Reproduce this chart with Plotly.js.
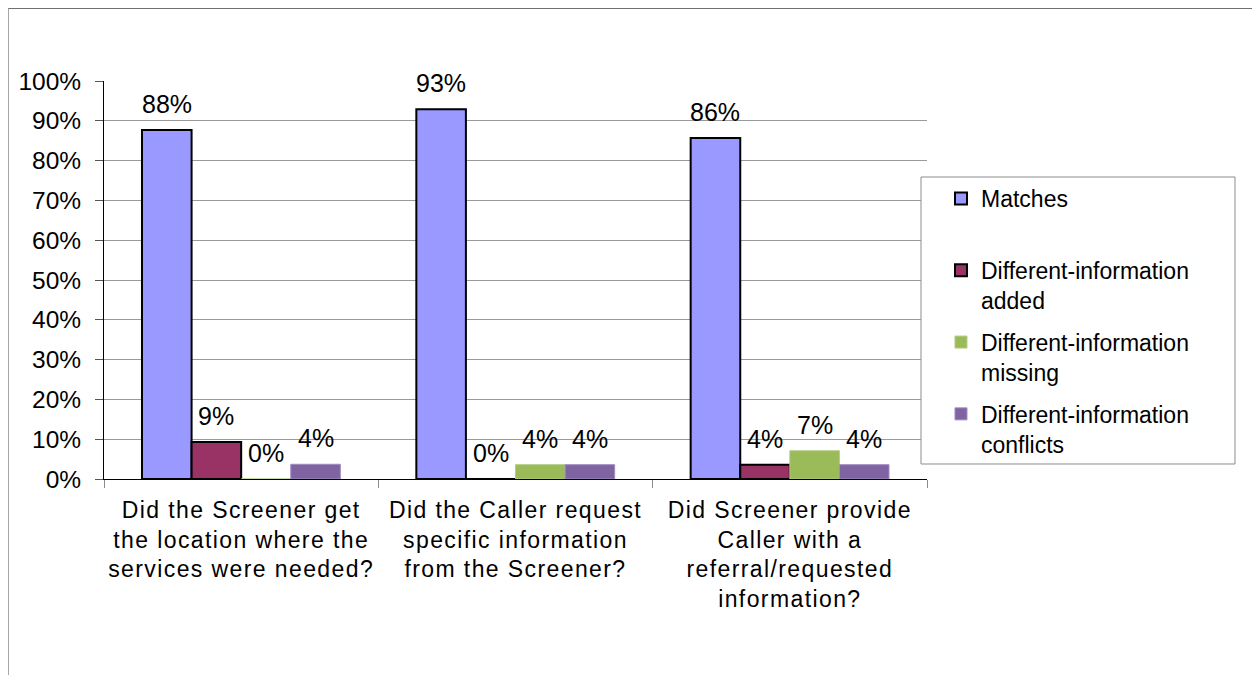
<!DOCTYPE html>
<html>
<head>
<meta charset="utf-8">
<script src="https://cdn.plot.ly/plotly-3.0.1.min.js"></script>
<style>
  html, body { margin: 0; padding: 0; background: #ffffff; }
  #wrap { position: relative; width: 1252px; height: 675px; overflow: hidden; }
  #chart { position: absolute; left: 0; top: 0; width: 1252px; height: 675px; }
  #frame { position: absolute; left: 8px; top: 8px; width: 1300px; height: 700px;
           border-top: 1px solid #6f6f6f; border-left: 1px solid #a6a6a6; pointer-events: none; }
  #chart .xtick text { letter-spacing: 1.4px; }
</style>
</head>
<body>
<div id="wrap">
  <div id="chart"></div>
  <div id="frame"></div>
</div>
<script>
const categories = [
  "Did the Screener get<br>the location where the<br>services were needed?",
  "Did the Caller request<br>specific information<br>from the Screener?",
  "Did Screener provide<br>Caller with a<br>referral/requested<br>information?"
];
const seriesNames = [
  "Matches<br> ",
  "Different-information<br>added",
  "Different-information<br>missing",
  "Different-information<br>conflicts"
];
const matches   = [0.877, 0.929, 0.857];
const added     = [0.093, 0.000, 0.036];
const missing   = [0.000, 0.036, 0.071];
const conflicts = [0.037, 0.036, 0.036];

const fillColors = ["#9999FF", "#993366", "#9BBB59", "#8064A2"];
const lineColors = ["#000000", "#000000", "#B4CC86", "#A08CC0"];
const lineWidths = [2, 2, 1, 1];

const FONT = "Liberation Sans, Arial, sans-serif";
const allSeries = [matches, added, missing, conflicts];
const BARGAP = 0.277;

const traces = allSeries.map((vals, i) => ({
  type: "bar",
  name: seriesNames[i],
  legendgroup: "g" + i,
  x: categories,
  y: vals,
  marker: { color: fillColors[i], line: { color: lineColors[i], width: lineWidths[i] } },
  hoverinfo: "skip"
}));

// value labels placed over each bar via the x/y axes
const nS = allSeries.length;
const barW = (1 - BARGAP) / nS;
const annotations = [];
allSeries.forEach((vals, si) => {
  vals.forEach((v, ci) => {
    annotations.push({
      xref: "x", yref: "y",
      x: ci + (si - (nS - 1) / 2) * barW,
      y: v,
      text: Math.round(v * 100) + "%",
      showarrow: false,
      xanchor: "center",
      yanchor: "bottom",
      yshift: 10,
      font: { family: FONT, size: 25, color: "#000000" }
    });
  });
});

// legend frame (paper coordinates relative to plot area)
const shapes = [{
  type: "rect", xref: "paper", yref: "paper",
  x0: 0.99271, x1: 1.37424, y0: 0.03769, y1: 0.75879,
  fillcolor: "#ffffff",
  line: { color: "#8c8c8c", width: 1 },
  layer: "above"
}];

const layout = {
  width: 1252,
  height: 675,
  margin: { l: 104, r: 325, t: 81, b: 196, pad: 0 },
  paper_bgcolor: "#ffffff",
  plot_bgcolor: "#ffffff",
  barmode: "group",
  bargap: BARGAP,
  bargroupgap: 0,
  showlegend: true,
  font: { family: FONT, size: 23, color: "#000000" },
  annotations: annotations,
  shapes: shapes,
  xaxis: {
    type: "category",
    showline: true,
    linecolor: "#000000",
    linewidth: 1,
    ticks: "outside",
    tickson: "boundaries",
    ticklen: 8,
    tickcolor: "#8c8c8c",
    tickfont: { family: FONT, size: 23, color: "#000000" },
    showgrid: false,
    zeroline: false,
    ticklabelstandoff: 10
  },
  yaxis: {
    range: [0, 1],
    dtick: 0.1,
    tick0: 0,
    tickformat: ".0%",
    showline: true,
    linecolor: "#000000",
    linewidth: 1,
    ticks: "outside",
    ticklen: 8,
    tickcolor: "#555555",
    tickfont: { family: FONT, size: 24.5, color: "#000000" },
    showgrid: true,
    gridcolor: "#9a9a9a",
    gridwidth: 1,
    zeroline: false,
    ticklabelstandoff: 9
  },
  legend: {
    x: 1.01701,
    y: 0.7588,
    xanchor: "left",
    yanchor: "top",
    bgcolor: "rgba(0,0,0,0)",
    bordercolor: "rgba(0,0,0,0)",
    borderwidth: 0,
    valign: "top",
    traceorder: "grouped",
    tracegroupgap: 9,
    itemwidth: 30,
    font: { family: FONT, size: 23, color: "#000000" }
  }
};

Plotly.newPlot("chart", traces, layout, { displayModeBar: false, staticPlot: true });
</script>
</body>
</html>
